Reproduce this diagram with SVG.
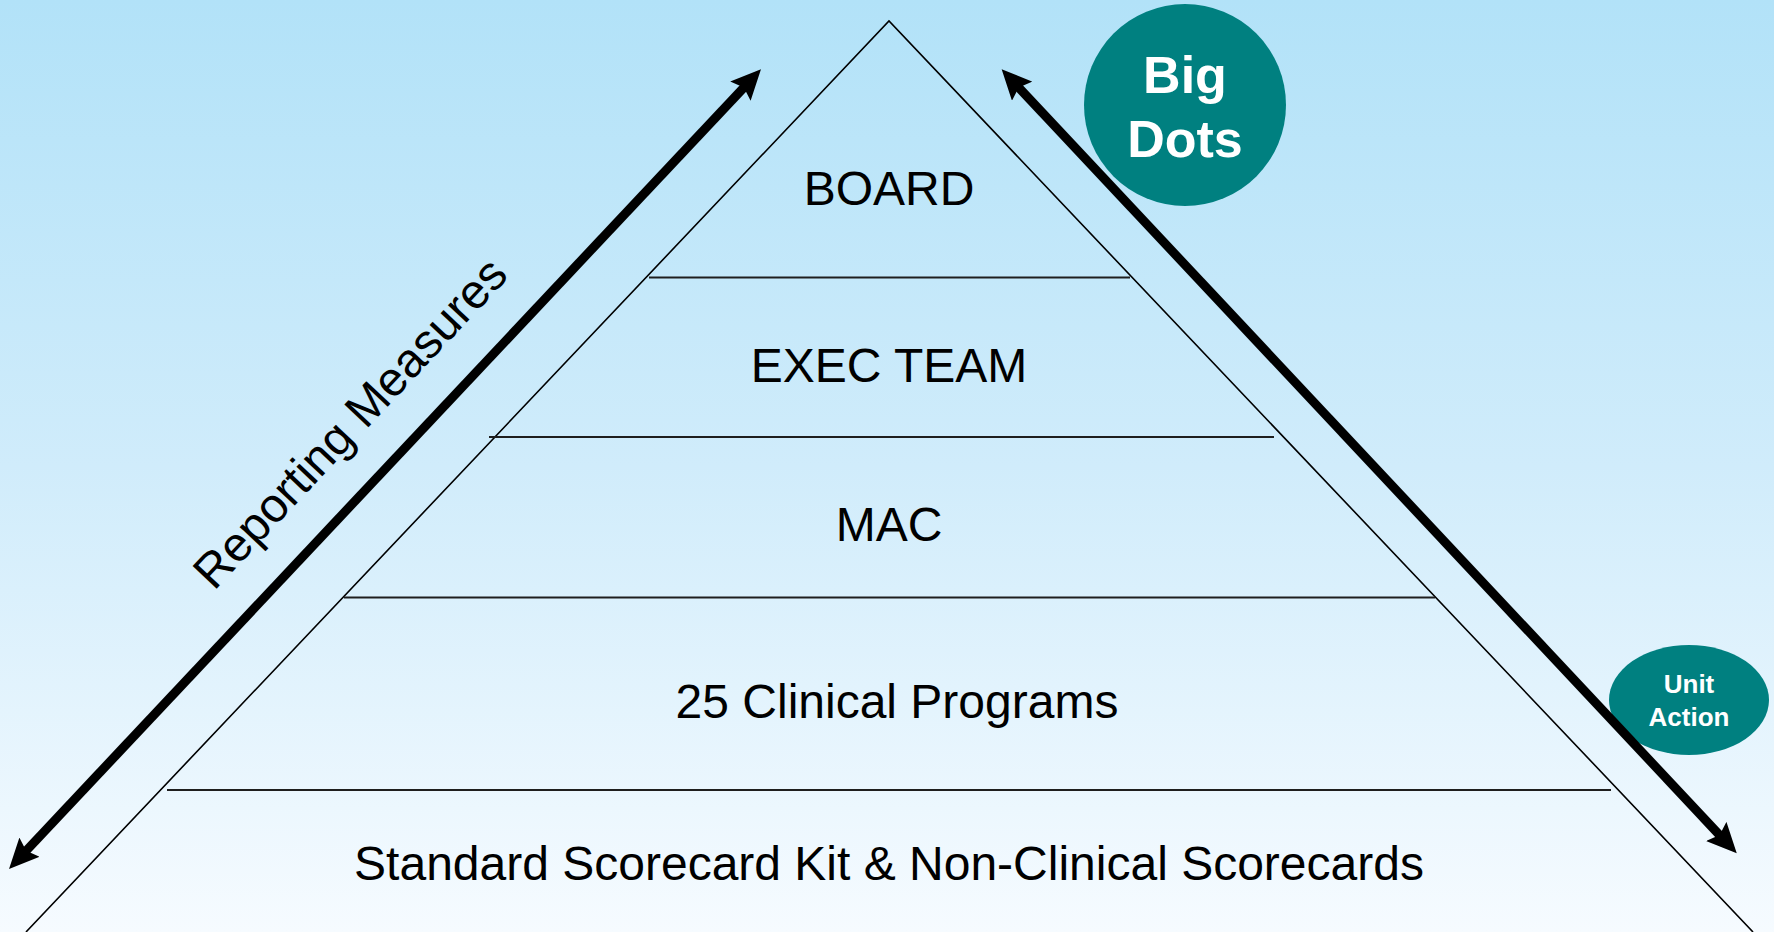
<svg xmlns="http://www.w3.org/2000/svg" width="1774" height="932" viewBox="0 0 1774 932">
  <defs>
    <linearGradient id="sky" x1="0" y1="0" x2="0" y2="1">
      <stop offset="0" stop-color="#b2e2f8"/>
      <stop offset="0.5" stop-color="#d0ecfb"/>
      <stop offset="1" stop-color="#f6fbff"/>
    </linearGradient>
    <marker id="head" viewBox="0 0 30 28" refX="8" refY="14" markerWidth="30" markerHeight="28" markerUnits="userSpaceOnUse" orient="auto-start-reverse">
      <path d="M0,0 L30,14 L0,28 L5,14 Z" fill="#000"/>
    </marker>
  </defs>
  <style>
    .tier { font-family: "Liberation Sans", Arial, sans-serif; font-size: 48px; fill: #000; text-anchor: middle; }
    .side { font-family: "Liberation Sans", Arial, sans-serif; font-size: 48px; fill: #000; text-anchor: middle; }
    .dot { fill: #008080; }
    .dotText { font-family: "Liberation Sans", Arial, sans-serif; font-weight: bold; fill: #fff; text-anchor: middle; }
    .edge { fill: none; stroke: #000; stroke-width: 1.6; }
    .divider { stroke: #1e1e1e; stroke-width: 2; }
    .arrow { stroke: #000; stroke-width: 9; fill: none; marker-start: url(#head); marker-end: url(#head); }
  </style>

  <!-- background -->
  <rect x="0" y="0" width="1774" height="932" fill="url(#sky)"/>

  <!-- pyramid outline -->
  <g id="pyramid">
    <polyline class="edge" points="26,932 889,21 1753,932"/>
    <line class="divider" x1="649" y1="277.5" x2="1130" y2="277.5"/>
    <line class="divider" x1="489" y1="437" x2="1274" y2="437"/>
    <line class="divider" x1="344" y1="597.5" x2="1435" y2="597.5"/>
    <line class="divider" x1="167" y1="790" x2="1611" y2="790"/>
  </g>

  <!-- tiers -->
  <g id="tier-board"><text class="tier" x="889" y="205">BOARD</text></g>
  <g id="tier-exec"><text class="tier" x="889" y="382">EXEC TEAM</text></g>
  <g id="tier-mac"><text class="tier" x="889" y="541">MAC</text></g>
  <g id="tier-programs"><text class="tier" x="897" y="718">25 Clinical Programs</text></g>
  <g id="tier-scorecards"><text class="tier" x="889" y="880">Standard Scorecard Kit &amp; Non-Clinical Scorecards</text></g>

  <!-- side label -->
  <g id="label-reporting">
    <text class="side" transform="translate(362,434) rotate(-46.8)" x="0" y="0">Reporting Measures</text>
  </g>

  <!-- badges -->
  <g id="badge-big-dots">
    <circle class="dot" cx="1185" cy="105" r="101"/>
    <text class="dotText" x="1185" y="93" font-size="52">Big</text>
    <text class="dotText" x="1185" y="157" font-size="52">Dots</text>
  </g>
  <g id="badge-unit-action">
    <ellipse class="dot" cx="1689" cy="700" rx="80" ry="55"/>
    <text class="dotText" x="1689" y="693" font-size="26">Unit</text>
    <text class="dotText" x="1689" y="726" font-size="26">Action</text>
  </g>

  <!-- two-way arrows -->
  <g id="connectors">
    <line class="arrow" x1="24.1" y1="853" x2="745.9" y2="85.3"/>
    <line class="arrow" x1="1016.7" y1="85.3" x2="1721.7" y2="837.3"/>
  </g>
</svg>
